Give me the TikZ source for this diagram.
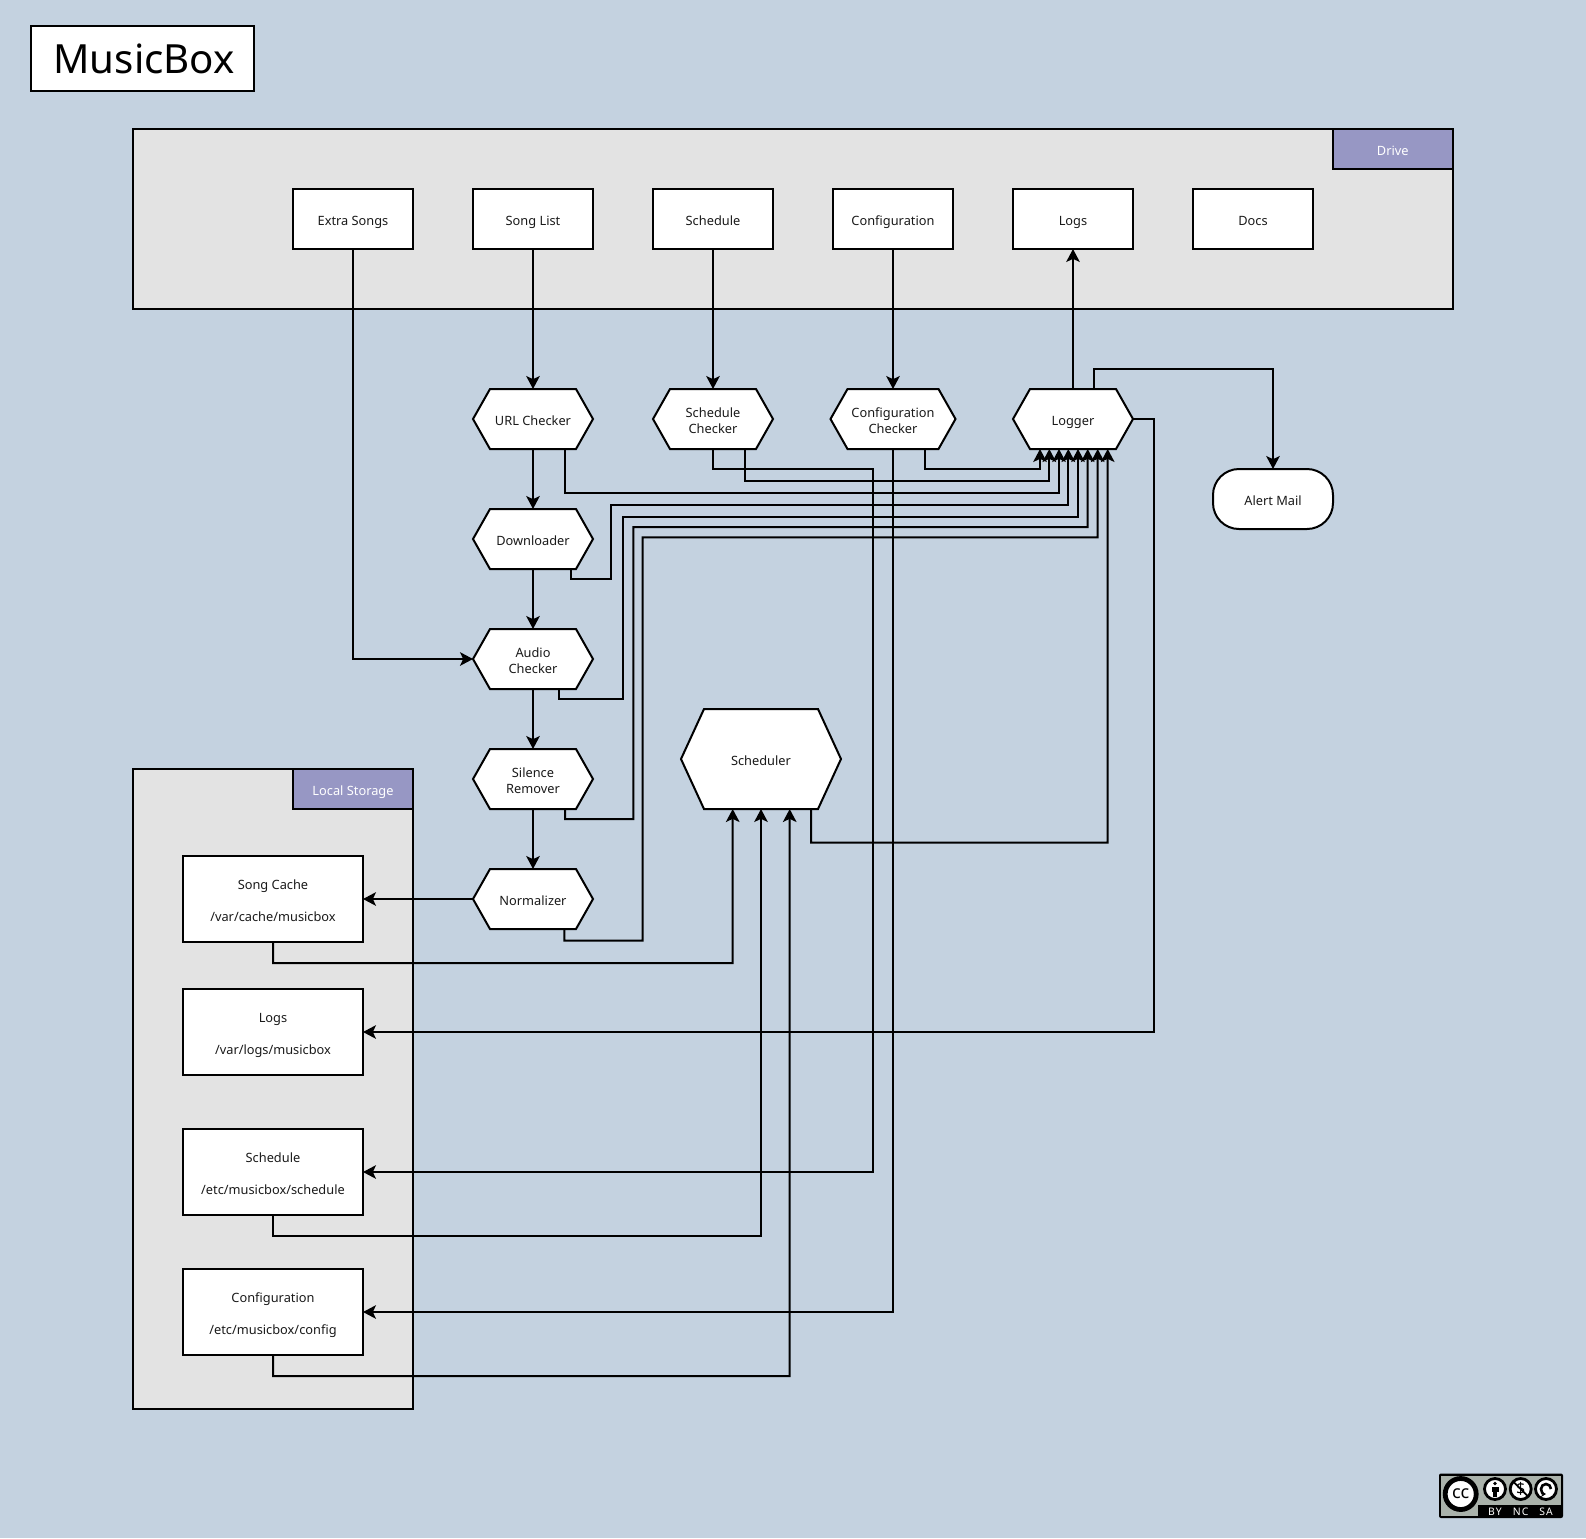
\documentclass[tikz,border=0pt]{standalone}
\usepackage{fontspec}
\setmainfont{Noto Sans}
\newfontfamily\badgefont[LetterSpace=10]{Noto Sans}
\usetikzlibrary{arrows.meta}
\definecolor{bgc}{HTML}{C4D2E0}
\definecolor{grp}{HTML}{E3E3E3}
\definecolor{lab}{HTML}{9797C4}
\definecolor{txt}{HTML}{1A1A1A}
\definecolor{badge}{HTML}{AAB2AB}
\newdimen\hexbevel
\hexbevel=8.5pt
\newdimen\hxa \newdimen\hxb \newdimen\hya \newdimen\hyb \newdimen\hyc \newdimen\hxl \newdimen\hxr
\makeatletter
\pgfdeclareshape{hexbox}{
  \inheritsavedanchors[from=rectangle]
  \inheritanchorborder[from=rectangle]
  \inheritanchor[from=rectangle]{center}
  \inheritanchor[from=rectangle]{north}
  \inheritanchor[from=rectangle]{south}
  \inheritanchor[from=rectangle]{west}
  \inheritanchor[from=rectangle]{east}
  \inheritanchor[from=rectangle]{mid}
  \inheritanchor[from=rectangle]{base}
  \backgroundpath{
    \southwest \hxa=\pgf@x \hya=\pgf@y
    \northeast \hxb=\pgf@x \hyb=\pgf@y
    \hyc=.5\hya \advance\hyc by .5\hyb
    \hxl=\hxa \advance\hxl by \hexbevel
    \hxr=\hxb \advance\hxr by -\hexbevel
    \pgfpathmoveto{\pgfqpoint{\hxa}{\hyc}}
    \pgfpathlineto{\pgfqpoint{\hxl}{\hya}}
    \pgfpathlineto{\pgfqpoint{\hxr}{\hya}}
    \pgfpathlineto{\pgfqpoint{\hxb}{\hyc}}
    \pgfpathlineto{\pgfqpoint{\hxr}{\hyb}}
    \pgfpathlineto{\pgfqpoint{\hxl}{\hyb}}
    \pgfpathclose
  }
}
\makeatother
\tikzset{
  every node/.style={font=\fontsize{6.4}{8}\selectfont,text=txt,align=center,inner sep=0pt,outer sep=0pt,text height=6.5pt,text depth=.5pt},
  twolines/.style={text height=14.5pt},
  spaced/.style={text height=22.5pt},
  group/.style={draw=black,line width=1pt,fill=grp,minimum width=#1},
  tag/.style={draw=black,line width=1pt,fill=lab,text=white},
  box/.style={draw=black,line width=1pt,fill=white,minimum width=60pt,minimum height=30pt},
  store/.style={draw=black,line width=1pt,fill=white,minimum width=90pt,minimum height=43pt,spaced},
  hexa/.style={hexbox,draw=black,line width=1pt,fill=white,minimum width=60pt,minimum height=30pt},
  conn/.style={draw=black,line width=1pt,-{Stealth[length=6.5pt,width=6.8pt,inset=1.6pt]}},
  badgelab/.style={text=white,font=\fontsize{5.2}{5}\badgefont,text height=3.7pt,text depth=0pt},
  badgeicon/.style={circle,draw=black,line width=1.4pt,fill=white,minimum size=10.5pt,text=black},
}
\begin{document}
\begin{tikzpicture}[x=0.5pt,y=-0.5pt]
\useasboundingbox (0,0) rectangle (1586,1538);
\fill[bgc] (0,0) rectangle (1586,1538);
% title
\node[draw=black,line width=1pt,fill=white,minimum width=111.75pt,minimum height=32.5pt,font=\fontsize{20.1}{24}\selectfont,text=black,text height=15.5pt,text depth=0pt] (title) at (142.6,58.4) {\kern1.5pt MusicBox};
% groups
\node[group=659.75pt,minimum height=89.75pt] (drive) at (792.75,218.75) {};
\node[tag,minimum width=59.75pt,minimum height=20pt] (drivetag) at (1392.75,149) {Drive};
\node[group=140pt,minimum height=320pt] (local) at (273,1089) {};
\node[tag,minimum width=60pt,minimum height=20pt] (localtag) at (353,789) {Local Storage};
% drive boxes
\node[box] (extra) at (353,219) {Extra Songs};
\node[box] (songlist) at (533,219) {Song List};
\node[box] (sched) at (713,219) {Schedule};
\node[box] (config) at (893,219) {Configuration};
\node[box] (logs) at (1073,219) {Logs};
\node[box] (docs) at (1253,219) {Docs};
% processes
\node[hexa] (url) at (533,419) {URL Checker};
\node[hexa,twolines] (schedchk) at (713,419) {Schedule\\Checker};
\node[hexa,twolines,minimum width=62.5pt] (confchk) at (893,419) {Configuration\\Checker};
\node[hexa] (logger) at (1073,419) {Logger};
\node[hexa] (down) at (533,539) {Downloader};
\node[hexa,twolines] (audio) at (533,659) {Audio\\Checker};
\node[hexa,twolines] (silence) at (533,779) {Silence\\Remover};
\node[hexa] (norm) at (533,899) {Normalizer};
\hexbevel=11.5pt
\node[hexa,minimum width=80pt,minimum height=50pt] (scheduler) at (761,759) {Scheduler};
\hexbevel=8.5pt
\node[box,rounded corners=13pt] (alert) at (1273,499) {Alert Mail};
% storage
\node[store] (cache) at (273,899) {Song Cache\\[8pt]/var/cache/musicbox};
\node[store] (slogs) at (273,1032) {Logs\\[8pt]/var/logs/musicbox};
\node[store] (ssched) at (273,1172) {Schedule\\[8pt]/etc/musicbox/schedule};
\node[store] (sconf) at (273,1312) {Configuration\\[8pt]/etc/musicbox/config};
% straight connectors
\draw[conn] (songlist) -- (url);
\draw[conn] (sched) -- (schedchk);
\draw[conn] (config) -- (confchk);
\draw[conn] (logger) -- (logs);
\draw[conn] (url) -- (down);
\draw[conn] (down) -- (audio);
\draw[conn] (audio) -- (silence);
\draw[conn] (silence) -- (norm);
\draw[conn] (norm) -- (cache);
\draw[conn] (extra.south) |- (audio.west);
\draw[conn] ([xshift=10.5pt]logger.north) |- (1273,369) -- (alert.north);
\draw[conn] (logger.east) -- (1153.5,419) |- (slogs.east);
% into logger
\draw[conn] ([xshift=16pt]confchk.south) -- (925,469) -- (1040,469) -- ([xshift=-16.5pt]logger.south);
\draw[conn] ([xshift=16pt]schedchk.south) -- (745,480.5) -- (1049.3,480.5) -- ([xshift=-11.85pt]logger.south);
\draw[conn] ([xshift=15.75pt]url.south) -- (564.5,492.7) -- (1059,492.7) -- ([xshift=-7pt]logger.south);
\draw[conn] ([xshift=19pt]down.south) -- (571,579) -- (611,579) -- (611,505) -- (1068.3,505) -- ([xshift=-2.35pt]logger.south);
\draw[conn] ([xshift=13pt]audio.south) -- (559,698.7) -- (623,698.7) -- (623,517) -- (1078,517) -- ([xshift=2.5pt]logger.south);
\draw[conn] ([xshift=16pt]silence.south) -- (565,819) -- (633.3,819) -- (633.3,527) -- (1087.7,527) -- ([xshift=7.35pt]logger.south);
\draw[conn] ([xshift=15.65pt]norm.south) -- (564.3,940.7) -- (642.7,940.7) -- (642.7,537.3) -- (1097.7,537.3) -- ([xshift=12.35pt]logger.south);
\draw[conn] ([xshift=25pt]scheduler.south) -- (811,842.7) -- (1107.7,842.7) -- ([xshift=17.35pt]logger.south);
% to storage
\draw[conn] (schedchk.south) -- (713,469) -- (873,469) |- (ssched.east);
\draw[conn] (confchk.south) |- (sconf.east);
% from storage
\draw[conn] (cache.south) -- (273,963) -- (732.7,963) -- ([xshift=-14.15pt]scheduler.south);
\draw[conn] (ssched.south) -- (273,1236) -- (761,1236) -- (scheduler.south);
\draw[conn] (sconf.south) -- (273,1376) -- (789.7,1376) -- ([xshift=14.35pt]scheduler.south);
% licence badge
\fill[black,rounded corners=1pt] (1439,1473.5) rectangle (1563,1518);
\fill[badge] (1441,1476) rectangle (1561,1505);
\fill[badge] (1441,1505) rectangle (1478,1516);
\node[circle,draw=black,line width=2.4pt,fill=white,minimum size=15.5pt,font=\fontsize{9}{9}\bfseries\selectfont,text=black,text height=4.2pt,text depth=0pt] (cc) at (1460.7,1494) {cc};
\node[badgeicon] (by) at (1495,1489) {};
\fill[black] (1495,1483.5) circle (1.9);
\fill[black] (1491.5,1486.5) rectangle (1498.5,1491.5);
\fill[black] (1493,1491) rectangle (1497,1497);
\node[badgeicon,font=\fontsize{8}{8}\bfseries\selectfont,text height=5.5pt,text depth=.5pt] (nc) at (1520.7,1489) {\$};
\draw[black,line width=.9pt] (nc.north west) -- (nc.south east);
\node[badgeicon] (sa) at (1546,1489) {};
\draw[black,line width=1.3pt,->,>={Stealth[length=2.5pt,width=3pt]}] (1551,1489) arc (0:-270:5);
\node[badgelab] (bylab) at (1495,1512) {BY};
\node[badgelab] (nclab) at (1520.7,1512) {NC};
\node[badgelab] (salab) at (1546,1512) {SA};
\end{tikzpicture}
\end{document}
